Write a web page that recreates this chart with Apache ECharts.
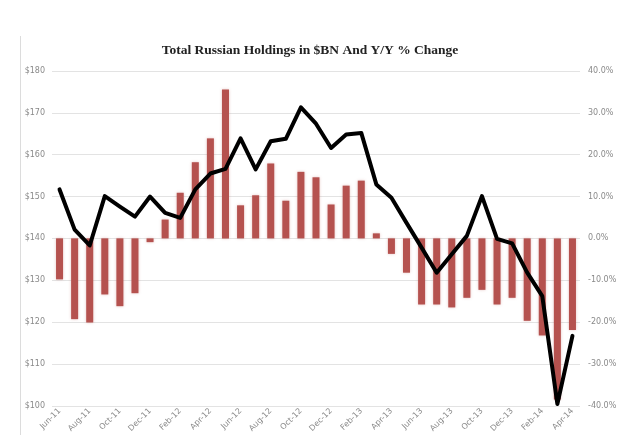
<!DOCTYPE html>
<html><head><meta charset="utf-8">
<script src="https://cdn.jsdelivr.net/npm/echarts@6/dist/echarts.min.js"></script>
<style>html,body{margin:0;padding:0;background:#fff}#c{width:620px;height:435px}</style>
</head><body><div id="c"></div>
<script>
var categories = ['Jun-11','Jul-11','Aug-11','Sep-11','Oct-11','Nov-11','Dec-11','Jan-12','Feb-12','Mar-12','Apr-12','May-12',
  'Jun-12','Jul-12','Aug-12','Sep-12','Oct-12','Nov-12','Dec-12','Jan-13','Feb-13','Mar-13','Apr-13','May-13',
  'Jun-13','Jul-13','Aug-13','Sep-13','Oct-13','Nov-13','Dec-13','Jan-14','Feb-14','Mar-14','Apr-14'];
var holdings = [151.7,142.1,138.3,150.1,147.6,145.2,150.0,146.1,144.9,151.7,155.5,156.6,
  163.9,156.5,163.2,163.8,171.3,167.4,161.6,164.8,165.2,152.9,149.7,143.7,
  137.8,131.8,136.2,140.6,150.1,139.9,138.8,131.8,126.2,100.4,116.7];
var yoyChange = [-9.8,-19.3,-20.1,-13.4,-16.2,-13.1,-0.9,4.5,10.9,18.2,23.9,35.6,
  7.9,10.3,17.9,9.0,15.9,14.6,8.1,12.6,13.8,1.2,-3.7,-8.2,
  -15.8,-15.8,-16.5,-14.2,-12.3,-15.8,-14.2,-19.7,-23.2,-38.5,-21.9];
var leftTicks = {min:100, max:180, interval:10};
var rightTicks = {min:-40, max:40, interval:10};

var chart = echarts.init(document.getElementById('c'), null, {renderer:'canvas'});
var labelStyle = {color:'#8a8a8a', fontSize:8, fontFamily:'DejaVu Sans'};
chart.setOption({
  animation:false,
  title:{text:'Total Russian Holdings in $BN And Y/Y % Change', left:'center', top:39,
    textStyle:{fontFamily:'Liberation Serif', fontWeight:'bold', fontSize:13.5, color:'#222'}},
  graphic:[{type:'line', shape:{x1:20.5,y1:36,x2:20.5,y2:435}, style:{stroke:'#dcdcdc', lineWidth:1}}],
  grid:{left:52, right:40, top:71, bottom:29, containLabel:false},
  xAxis:{type:'category', data:categories, boundaryGap:true,
    axisLine:{show:false, onZero:false}, axisTick:{show:false},
    axisLabel:Object.assign({interval:1, rotate:45, margin:4}, labelStyle)},
  yAxis:[
    {type:'value', min:leftTicks.min, max:leftTicks.max, interval:leftTicks.interval, position:'left',
     axisLine:{show:false}, axisTick:{show:false},
     splitLine:{lineStyle:{color:'#e3e3e3', width:1}},
     axisLabel:Object.assign({formatter:function(v){return '$'+v;}, margin:7}, labelStyle)},
    {type:'value', min:rightTicks.min, max:rightTicks.max, interval:rightTicks.interval, position:'right',
     axisLine:{show:false}, axisTick:{show:false}, splitLine:{show:false},
     axisLabel:Object.assign({formatter:function(v){return v.toFixed(1)+'%';}, margin:8}, labelStyle)}
  ],
  series:[
    {type:'bar', yAxisIndex:1, data:yoyChange, barWidth:7,
     itemStyle:{color:'#b5524f', shadowColor:'rgba(181,82,79,0.35)', shadowBlur:3}},
    {type:'line', yAxisIndex:0, data:holdings, symbol:'none', smooth:false,
     lineStyle:{color:'#000', width:4, join:'round', cap:'round'}, z:5}
  ]
});
</script></body></html>
